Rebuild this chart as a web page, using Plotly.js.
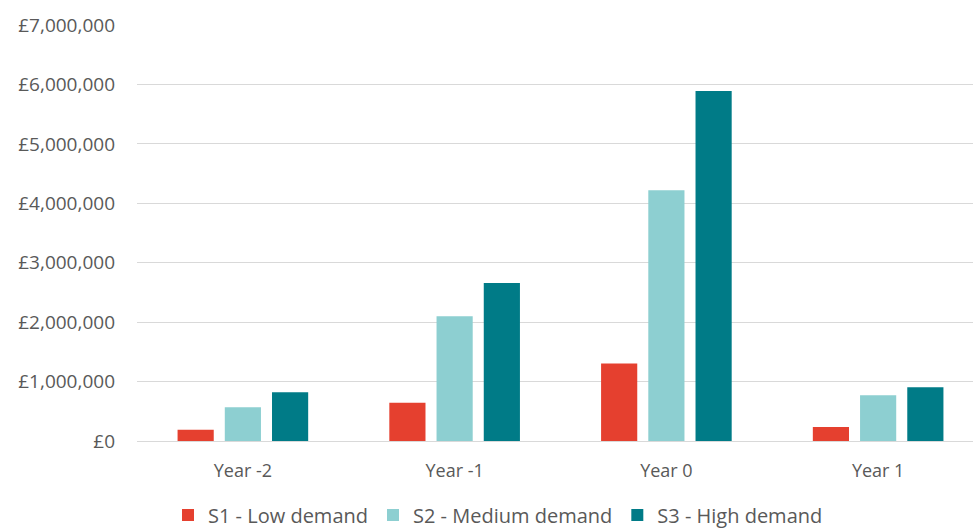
<!DOCTYPE html>
<html>
<head>
<meta charset="utf-8">
<script src="https://cdn.plot.ly/plotly-3.0.1.min.js"></script>
<style>
  html, body { margin: 0; padding: 0; background: #ffffff; }
  #chart { width: 973px; height: 528px; }
</style>
</head>
<body>
<div id="chart"></div>
<script>
const categories = ["Year -2", "Year -1", "Year 0", "Year 1"];
const seriesNames = ["S1 - Low demand", "S2 - Medium demand", "S3 - High demand"];
const s1Values = [190000, 645000, 1305000, 235000];
const s2Values = [567000, 2100000, 4220000, 770000];
const s3Values = [820000, 2660000, 5890000, 905000];
const seriesColors = ["#E5402F", "#8DCFD1", "#007B87"];

const textColor = "#595959";
const fontFamily = "'Open Sans', 'Noto Sans', sans-serif";

const valueSets = [s1Values, s2Values, s3Values];
const traces = valueSets.map((vals, i) => ({
  type: "bar",
  name: seriesNames[i],
  x: categories,
  y: vals,
  marker: { color: seriesColors[i], line: { width: 0 } },
  hoverinfo: "skip"
}));

const layout = {
  width: 973,
  height: 528,
  margin: { l: 137, r: 0, t: 25, b: 87, pad: 0 },
  paper_bgcolor: "#ffffff",
  plot_bgcolor: "#ffffff",
  font: { family: fontFamily, color: textColor, size: 17 },
  barmode: "group",
  bargap: 0.331,
  bargroupgap: 0.234,
  showlegend: true,
  legend: {
    orientation: "h",
    xref: "container",
    yref: "container",
    x: 168 / 973,
    xanchor: "left",
    y: 13 / 528,
    yanchor: "middle",
    font: { family: fontFamily, size: 20, color: textColor },
    bgcolor: "rgba(0,0,0,0)",
    traceorder: "normal"
  },
  xaxis: {
    type: "category",
    range: [-0.5, 3.448],
    showgrid: false,
    zeroline: false,
    showline: false,
    ticks: "",
    tickfont: { family: fontFamily, size: 18, color: textColor },
    ticklabelstandoff: 17,
    fixedrange: true
  },
  yaxis: {
    range: [0, 7000000],
    dtick: 1000000,
    tick0: 0,
    tickprefix: "£",
    tickformat: ",d",
    showgrid: true,
    gridcolor: "#D9D9D9",
    gridwidth: 1,
    zeroline: true,
    zerolinecolor: "#D9D9D9",
    zerolinewidth: 1,
    showline: false,
    ticks: "",
    tickfont: { family: fontFamily, size: 19, color: textColor },
    ticklabelstandoff: 21,
    fixedrange: true
  }
};

Plotly.newPlot("chart", traces, layout, { displayModeBar: false, staticPlot: true });
</script>
</body>
</html>
